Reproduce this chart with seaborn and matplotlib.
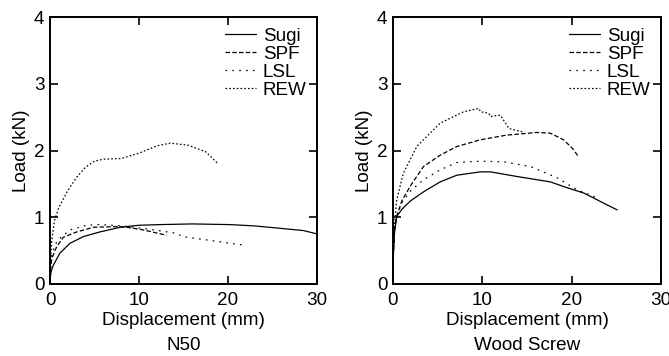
import matplotlib
matplotlib.use("Agg")
import matplotlib.pyplot as plt
import seaborn as sns
import pandas as pd

# ---------------- data ----------------
series_names = ["Sugi", "SPF", "LSL", "REW"]

# N50
n50_sugi_x = [0, 0.05, 0.15, 0.37, 1.1, 2.25, 3.75, 5.6, 7.9, 10.0, 12.4, 16.0, 20.2, 23.0, 26.2, 28.5, 30.0]
n50_sugi_y = [0, 0.12, 0.2, 0.28, 0.46, 0.61, 0.71, 0.78, 0.85, 0.88, 0.89, 0.9, 0.89, 0.87, 0.83, 0.8, 0.75]
n50_spf_x = [0, 0.05, 0.2, 0.75, 1.5, 3.0, 4.9, 7.5, 8.6, 10.5, 13.1]
n50_spf_y = [0, 0.2, 0.38, 0.56, 0.7, 0.78, 0.85, 0.86, 0.85, 0.81, 0.73]
n50_lsl_x = [0, 0.05, 0.2, 0.8, 2.25, 4.1, 5.6, 8.2, 11.2, 14.2, 14.9, 18.7, 21.9]
n50_lsl_y = [0, 0.25, 0.45, 0.65, 0.81, 0.88, 0.89, 0.87, 0.82, 0.76, 0.71, 0.64, 0.58]
n50_rew_x = [0, 0.05, 0.2, 0.5, 1.0, 2.0, 3.0, 4.0, 5.0, 6.0, 8.0, 10.0, 12.0, 13.5, 15.5, 17.5, 18.9]
n50_rew_y = [0, 0.35, 0.65, 0.95, 1.15, 1.4, 1.6, 1.75, 1.84, 1.87, 1.88, 1.96, 2.07, 2.11, 2.08, 1.98, 1.8]

# Wood Screw
ws_sugi_x = [0, 0.05, 0.15, 0.41, 1.0, 1.91, 3.41, 5.28, 7.15, 9.77, 10.9, 13.9, 17.6, 19.1, 21.4, 23.6, 25.1]
ws_sugi_y = [0, 0.45, 0.75, 1.01, 1.12, 1.24, 1.38, 1.53, 1.63, 1.68, 1.68, 1.61, 1.53, 1.46, 1.36, 1.21, 1.11]
ws_spf_x = [0, 0.05, 0.2, 0.5, 1.0, 2.0, 3.41, 5.28, 7.15, 9.77, 12.7, 16.1, 17.6, 19.1, 20.1, 20.7]
ws_spf_y = [0, 0.5, 0.85, 1.05, 1.25, 1.48, 1.76, 1.93, 2.06, 2.16, 2.23, 2.27, 2.26, 2.16, 2.03, 1.92]
ws_lsl_x = [0, 0.05, 0.2, 0.5, 1.0, 2.0, 3.41, 5.28, 7.15, 9.77, 12.4, 15.4, 18.4, 20.6, 22.7]
ws_lsl_y = [0, 0.5, 0.85, 1.05, 1.22, 1.4, 1.56, 1.71, 1.82, 1.84, 1.83, 1.76, 1.59, 1.41, 1.3]
ws_rew_x = [0, 0.05, 0.15, 0.41, 1.16, 2.66, 5.28, 7.9, 9.6, 9.8, 10.7, 10.9, 12.0, 12.6, 12.96, 14.5]
ws_rew_y = [0, 0.5, 0.85, 1.26, 1.66, 2.06, 2.41, 2.58, 2.63, 2.58, 2.56, 2.51, 2.53, 2.41, 2.33, 2.28]

x_ticks = [0, 10, 20, 30]
y_ticks = [0, 1, 2, 3, 4]
x_label = "Displacement (mm)"
y_label = "Load (kN)"
panel_titles = ["N50", "Wood Screw"]

# ---------------- style ----------------
sns.set_theme(style="ticks")
plt.rcParams["font.family"] = ["Liberation Sans", "DejaVu Sans"]
FS = 13.6
plt.rcParams.update({
    "font.size": FS,
    "axes.linewidth": 1.4,
    "xtick.direction": "in",
    "ytick.direction": "in",
    "xtick.major.size": 6,
    "ytick.major.size": 6,
    "xtick.major.width": 1.2,
    "ytick.major.width": 1.2,
    "xtick.color": "black",
    "ytick.color": "black",
    "axes.edgecolor": "black",
    "text.color": "black",
    "axes.labelcolor": "black",
})

styles = {
    "Sugi": "-",
    "SPF": (0, (3.6, 1.8)),
    "LSL": (0, (1.3, 4.2)),
    "REW": (0, (1.3, 1.7)),
}

panels = [
    {"Sugi": (n50_sugi_x, n50_sugi_y), "SPF": (n50_spf_x, n50_spf_y),
     "LSL": (n50_lsl_x, n50_lsl_y), "REW": (n50_rew_x, n50_rew_y)},
    {"Sugi": (ws_sugi_x, ws_sugi_y), "SPF": (ws_spf_x, ws_spf_y),
     "LSL": (ws_lsl_x, ws_lsl_y), "REW": (ws_rew_x, ws_rew_y)},
]

fig = plt.figure(figsize=(6.69, 3.56), dpi=100)
axes_rects = [
    [50 / 669, 72 / 356, 267 / 669, 267 / 356],
    [393 / 669, 72 / 356, 268 / 669, 267 / 356],
]

for rect, pdata, title in zip(axes_rects, panels, panel_titles):
    ax = fig.add_axes(rect)
    for name in series_names:
        xs, ys = pdata[name]
        df = pd.DataFrame({"x": xs, "y": ys})
        sns.lineplot(data=df, x="x", y="y", ax=ax, color="black", lw=0.9,
                     linestyle=styles[name], label=name, sort=False)
    ax.set_xlim(0, 30)
    ax.set_ylim(0, 4)
    ax.set_xticks(x_ticks)
    ax.set_yticks(y_ticks)
    ax.tick_params(axis="x", top=True, labelsize=FS, pad=6)
    ax.tick_params(axis="y", right=True, labelsize=FS, pad=4)
    ax.set_xlabel(x_label, fontsize=FS, labelpad=2)
    ax.set_ylabel(y_label, fontsize=FS, labelpad=3)
    ax.text(0.5, -0.198, title, transform=ax.transAxes, ha="center", va="top", fontsize=FS)
    ax.legend(loc="upper right", frameon=False, fontsize=FS,
              handlelength=1.65, handletextpad=0.35, labelspacing=0.05,
              borderaxespad=0.25, borderpad=0.3)
    for sp in ax.spines.values():
        sp.set_visible(True)

fig.savefig("out.png", dpi=100)
